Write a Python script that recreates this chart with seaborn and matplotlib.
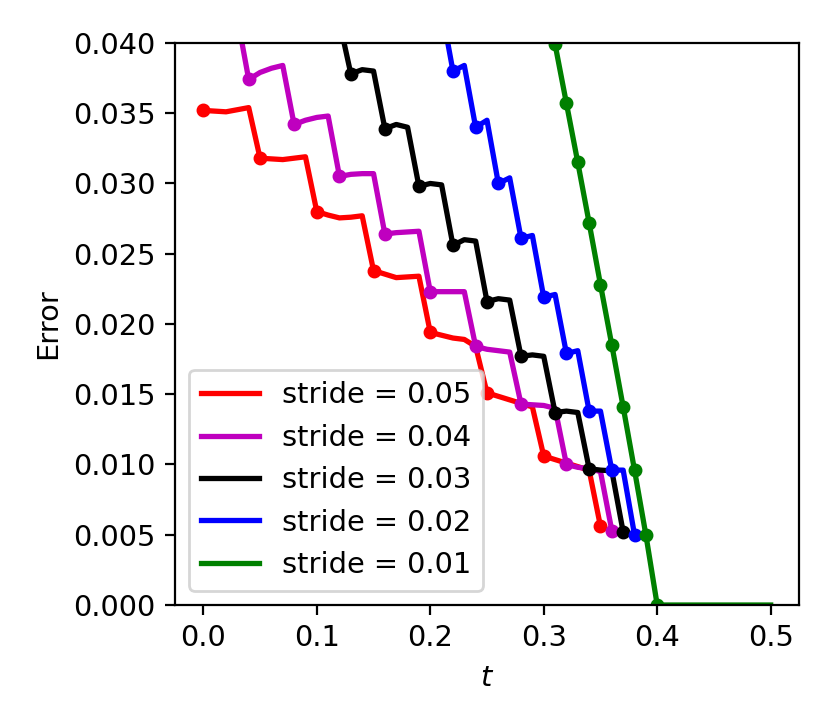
import numpy as np
import matplotlib
matplotlib.use("Agg")
import matplotlib.pyplot as plt
import seaborn as sns

# error curves, sampled every 0.01 in t from each start time
start_005 = 0.00
err_005 = [0.0352, 0.03515, 0.0351, 0.03525, 0.0354,
           0.0318, 0.03175, 0.0317, 0.0318, 0.0319,
           0.0280, 0.02775, 0.02755, 0.0276, 0.0277,
           0.0238, 0.02355, 0.0233, 0.02335, 0.0234,
           0.0194, 0.0192, 0.0190, 0.0189, 0.0184,
           0.0151, 0.01485, 0.0146, 0.01435, 0.0141,
           0.0106, 0.01035, 0.0101, 0.00985, 0.0096,
           0.0056]

start_004 = 0.00
err_004 = [0.0410, 0.0413, 0.0416, 0.0418,
           0.0374, 0.0379, 0.0382, 0.0384,
           0.0342, 0.0345, 0.0347, 0.0348,
           0.0305, 0.03065, 0.0307, 0.0307,
           0.0264, 0.0265, 0.02655, 0.0266,
           0.0223, 0.0223, 0.0223, 0.0223,
           0.0184, 0.0182, 0.0181, 0.0180,
           0.0143, 0.01425, 0.0142, 0.0140,
           0.0100, 0.0098, 0.0097, 0.0095,
           0.0053]

start_003 = 0.10
err_003 = [0.0412, 0.0415, 0.0415,
           0.0378, 0.0381, 0.0380,
           0.0339, 0.0342, 0.0340,
           0.0298, 0.0300, 0.0299,
           0.0256, 0.0260, 0.0259,
           0.0216, 0.0218, 0.0217,
           0.0177, 0.0178, 0.0177,
           0.0137, 0.0138, 0.0137,
           0.0097, 0.0096, 0.00955,
           0.0052]

start_002 = 0.20
err_002 = [0.0421, 0.0424,
           0.0380, 0.0384,
           0.0340, 0.0345,
           0.0300, 0.0304,
           0.0261, 0.0263,
           0.0219, 0.0221,
           0.0179, 0.0181,
           0.0138, 0.0138,
           0.0096, 0.0096,
           0.0050]

start_001 = 0.30
err_001 = [0.0442, 0.0399, 0.0357, 0.0315, 0.0272, 0.0228,
           0.0185, 0.0141, 0.0096, 0.0050, 0.0,
           0.0, 0.0, 0.0, 0.0, 0.0, 0.0, 0.0, 0.0, 0.0, 0.0]
last_marker_001 = 0.40

series = [
    ("stride = 0.05", start_005, err_005, 5, "r"),
    ("stride = 0.04", start_004, err_004, 4, "m"),
    ("stride = 0.03", start_003, err_003, 3, "k"),
    ("stride = 0.02", start_002, err_002, 2, "b"),
    ("stride = 0.01", start_001, err_001, 1, "g"),
]

plt.rcParams["font.size"] = 10.4

fig = plt.figure(figsize=(4.15, 3.635), dpi=200)
ax = fig.add_axes([0.2108, 0.1678, 0.7519, 0.7731])

for label, t0, err, step, color in series:
    t = np.round(t0 + 0.01 * np.arange(len(err)), 2)
    err = np.array(err)
    sns.lineplot(x=t, y=err, color=color, label=label, ax=ax,
                 estimator=None, sort=False, linewidth=1.9)
    keep = np.arange(0, len(t), step)
    if label == "stride = 0.01":
        keep = keep[t[keep] <= last_marker_001]
    ax.plot(t[keep], err[keep], "o", color=color, markersize=4)

ax.set_ylim(0, 0.04)
ax.set_xlabel("$t$")
ax.set_ylabel("Error")
ax.legend(loc="lower left")

fig.savefig("out.png", dpi=200)
